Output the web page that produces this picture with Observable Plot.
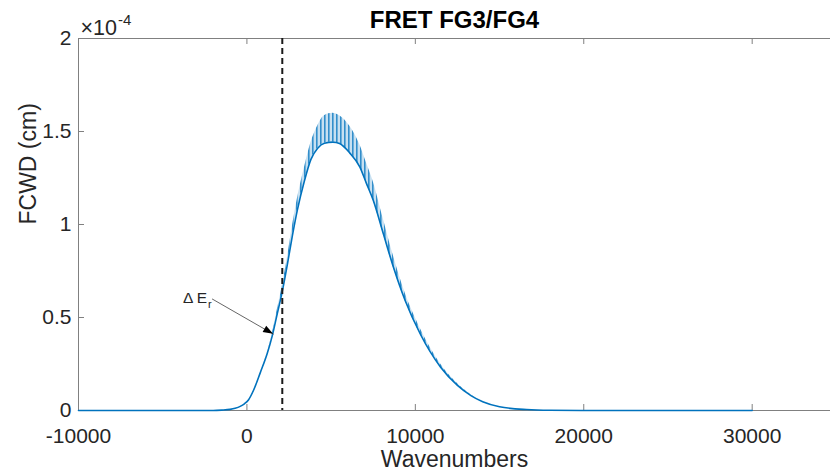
<!DOCTYPE html>
<html>
<head>
<meta charset="utf-8">
<script src="https://cdn.jsdelivr.net/npm/d3@7"></script>
<script src="https://cdn.jsdelivr.net/npm/@observablehq/plot@0.6"></script>
<style>
  html, body { margin: 0; padding: 0; background: #fff; }
  svg { display: block; }
</style>
</head>
<body>
<div id="chart"></div>
<script>
// Values in units of 1e-4 cm
const wavenumber = [-10000, -3000, -2000, -1500, -1000, -700, -400, -150, 100, 400, 800, 1200, 1500, 1800, 2100, 2400, 2700, 3000, 3400, 3800, 4200, 4600, 5100, 5500, 6100, 6700, 7100, 7500, 8100, 8700, 9400, 10300, 11500, 12500, 13300, 14000, 15000, 16600, 18000, 20000, 25000, 30000];
const fcwdLow  = [0, 0, 0, 0.002, 0.006, 0.012, 0.022, 0.036, 0.058, 0.11, 0.205, 0.305, 0.40, 0.52, 0.64, 0.785, 0.94, 1.08, 1.23, 1.35, 1.41, 1.437, 1.443, 1.435, 1.385, 1.31, 1.22, 1.13, 0.95, 0.77, 0.59, 0.41, 0.233, 0.135, 0.08, 0.047, 0.02, 0.005, 0.001, 0, 0, 0];
const fcwdHigh = [0, 0, 0, 0.002, 0.006, 0.012, 0.022, 0.036, 0.058, 0.11, 0.205, 0.305, 0.41, 0.54, 0.67, 0.82, 0.99, 1.14, 1.30, 1.44, 1.53, 1.585, 1.598, 1.585, 1.53, 1.43, 1.33, 1.23, 1.03, 0.83, 0.63, 0.44, 0.25, 0.145, 0.085, 0.047, 0.02, 0.005, 0.001, 0, 0, 0];

const xTicks = [-10000, 0, 10000, 20000, 30000];
const yTicks = [0, 0.5, 1, 1.5, 2];
const markerWavenumber = [2100];
const exponentText = "×10";
const exponentSup = "-4";
const titleText = "FRET FG3/FG4";
const xLabel = "Wavenumbers";
const yLabel = "FCWD (cm)";
// annotation arrow: from label to the curve
const annotation = [{x1: -2070, y1: 0.60, x2: 1583, y2: 0.41, label: "Δ E", sub: "r"}];

const data = wavenumber.map((x, i) => ({x, low: fcwdLow[i], high: fcwdHigh[i]}));

const W = 830, H = 473;
const mL = 78, mR = 0, mT = 38, mB = 63;
const plotW = W - mL - mR, plotH = H - mT - mB;
const axisColor = "#808080";
const textColor = "#262626";
const blue = "#0072BD";
const font = "'Liberation Sans', Arial, Helvetica, sans-serif";

const chart = Plot.plot({
  width: W,
  height: H,
  marginLeft: mL,
  marginRight: mR,
  marginTop: mT,
  marginBottom: mB,
  style: {fontFamily: font, color: textColor, background: "#fff"},
  x: {domain: [-10000, 34650]},
  y: {domain: [0, 2]},
  marks: [
    // frame lines (left, bottom, top)
    Plot.ruleX([-10000], {stroke: axisColor, strokeWidth: 1}),
    Plot.ruleY([0, 2], {stroke: axisColor, strokeWidth: 1}),
    // inward ticks
    Plot.ruleX(xTicks, {stroke: axisColor, insetTop: plotH - 6}),
    Plot.ruleX(xTicks, {stroke: axisColor, insetBottom: plotH - 6}),
    Plot.ruleY(yTicks, {stroke: axisColor, insetRight: plotW - 6}),
    // tick labels
    Plot.axisX(xTicks, {tickSize: 0, tickPadding: 18, fontSize: 21, color: textColor, label: null, tickFormat: d => String(d)}),
    Plot.axisY(yTicks, {tickSize: 0, tickPadding: 7, fontSize: 21, color: textColor, label: null, tickFormat: d => String(d)}),
    // data: oscillation band (textured) and lower envelope
    Plot.areaY(data, {x: "x", y1: "low", y2: "high", fill: "url(#teeth)", curve: "monotone-x"}),
    Plot.lineY(data, {x: "x", y: "low", stroke: blue, strokeWidth: 1.6, curve: "monotone-x"}),
    // dashed marker
    Plot.ruleX(markerWavenumber, {stroke: "#1a1a1a", strokeWidth: 2, strokeDasharray: "6,4"}),
    // annotation arrow shaft
    Plot.link(annotation, {x1: "x1", y1: "y1", x2: "x2", y2: "y2", stroke: "#555", strokeWidth: 0.9}),
    Plot.text(annotation, {x: "x1", y: "y1", text: "label", textAnchor: "end", dx: -5, dy: -1, fontSize: 15.5, fill: textColor, fontFamily: font}),
    Plot.text(annotation, {x: "x1", y: "y1", text: "sub", textAnchor: "start", dx: -4, dy: 6, fontSize: 11, fill: textColor, fontFamily: font}),
    // titles and labels
    Plot.text([titleText], {frameAnchor: "top", dy: -11, lineAnchor: "bottom", fontSize: 24, fontWeight: "bold", fill: "#000", fontFamily: font}),
    Plot.text([xLabel], {frameAnchor: "bottom", dy: 40, lineAnchor: "top", fontSize: 23, fill: textColor, fontFamily: font}),
    Plot.text([yLabel], {frameAnchor: "left", dx: -50, rotate: -90, fontSize: 23, fill: textColor, fontFamily: font}),
    Plot.text([exponentText], {frameAnchor: "top-left", dx: 2, dy: -4, textAnchor: "start", lineAnchor: "bottom", fontSize: 21.5, fill: textColor, fontFamily: font}),
    Plot.text([exponentSup], {frameAnchor: "top-left", dx: 39.5, dy: -14, textAnchor: "start", lineAnchor: "bottom", fontSize: 15, fill: textColor, fontFamily: font})
  ]
});

const svg = d3.select(chart);
// stripe pattern imitating the dense oscillation teeth
const defs = svg.insert("defs", ":first-child");
const pat = defs.append("pattern").attr("id", "teeth").attr("patternUnits", "userSpaceOnUse")
  .attr("width", 4).attr("height", 4);
pat.append("rect").attr("width", 4).attr("height", 4).attr("fill", blue).attr("fill-opacity", 0.22);
pat.append("rect").attr("x", 0).attr("width", 1.6).attr("height", 4).attr("fill", blue).attr("fill-opacity", 0.75);

// filled arrow head drawn through the chart's own scales
const sx = chart.scale("x"), sy = chart.scale("y");
annotation.forEach(a => {
  const px1 = sx.apply(a.x1), py1 = sy.apply(a.y1);
  const px2 = sx.apply(a.x2), py2 = sy.apply(a.y2);
  const ang = Math.atan2(py2 - py1, px2 - px1);
  const len = 10, half = 3.6;
  const bx = px2 - len * Math.cos(ang), by = py2 - len * Math.sin(ang);
  const nx = -Math.sin(ang), ny = Math.cos(ang);
  const pts = [[px2, py2], [bx + half * nx, by + half * ny], [bx - half * nx, by - half * ny]];
  svg.append("polygon").attr("points", pts.map(p => p.join(",")).join(" ")).attr("fill", "#000");
});

document.getElementById("chart").appendChild(chart);
</script>
</body>
</html>
